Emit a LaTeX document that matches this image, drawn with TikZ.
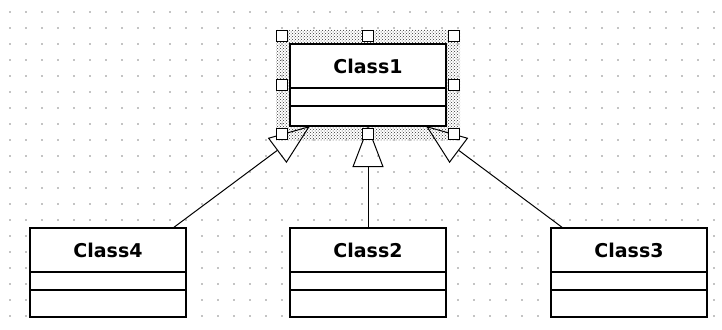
\documentclass[tikz,border=0pt]{standalone}
\usepackage{fontspec}
\newfontfamily\classfont{DejaVu Sans}
\usepackage{tikz}
\usetikzlibrary{arrows.meta, positioning, fit, backgrounds, patterns}
\definecolor{griddot}{RGB}{196,196,196}
\tikzset{
  classhead/.style={rectangle, draw=black, fill=white, line width=1.5pt,
                    minimum width=156pt, minimum height=44pt, inner sep=0pt,
                    outer sep=0pt,
                    font=\classfont\bfseries\fontsize{19}{21}\selectfont},
  classpart/.style={rectangle, draw=black, fill=white, line width=1.5pt,
                    minimum width=156pt, inner sep=0pt, outer sep=0pt},
  selshade/.style={rectangle, draw=none, fill=black!12, pattern=crosshatch dots,
                   pattern color=black!80, inner sep=14pt},
  selframe/.style={rectangle, draw=none, inner sep=8pt},
  handle/.style={rectangle, draw=black, fill=white, line width=1.2pt,
                 minimum size=11pt, inner sep=0pt},
  inherit/.style={-{Triangle[open, length=41pt, width=31pt]}, draw=black,
                  line width=1pt},
}
\begin{document}
\begin{tikzpicture}[x=1pt, y=-1pt, node distance=102pt and 104pt]
  \useasboundingbox (0,0) rectangle (722,329);

  % Grid
  \foreach \i in {0,...,44}
    \foreach \j in {0,...,19}
      \fill[griddot] (9.2+16*\i,11.2+16*\j) rectangle ++(1.6,1.6);

  % Superclass
  \node[classhead] (c1head) at (368,66) {Class1};
  \node[classpart, minimum height=18pt, below=0pt of c1head] (c1attr) {};
  \node[classpart, minimum height=20pt, below=0pt of c1attr] (c1ops) {};

  % Subclasses
  \node[classhead, below=of c1ops] (c2head) {Class2};
  \node[classpart, minimum height=18pt, below=0pt of c2head] (c2attr) {};
  \node[classpart, minimum height=27pt, below=0pt of c2attr] (c2ops) {};

  \node[classhead, left=of c2head] (c4head) {Class4};
  \node[classpart, minimum height=18pt, below=0pt of c4head] (c4attr) {};
  \node[classpart, minimum height=27pt, below=0pt of c4attr] (c4ops) {};

  \node[classhead, right=105pt of c2head] (c3head) {Class3};
  \node[classpart, minimum height=18pt, below=0pt of c3head] (c3attr) {};
  \node[classpart, minimum height=27pt, below=0pt of c3attr] (c3ops) {};

  % Selection
  \begin{scope}[on background layer]
    \node[selshade, fit=(c1head)(c1ops)] (sel) {};
  \end{scope}

  % Edges
  \draw[inherit] ([xshift=-13pt]c4head.north east) -- ([xshift=20pt]c1ops.south west);
  \draw[inherit] (c2head.north) -- (c1ops.south);
  \draw[inherit] ([xshift=12pt]c3head.north west) -- ([xshift=-20pt]c1ops.south east);

  % Handles
  \node[selframe, fit=(c1head)(c1ops)] (frame) {};
  \foreach \a in {north west, north, north east, west, east,
                  south west, south, south east}
    \node[handle] at (frame.\a) {};

\end{tikzpicture}
\end{document}
